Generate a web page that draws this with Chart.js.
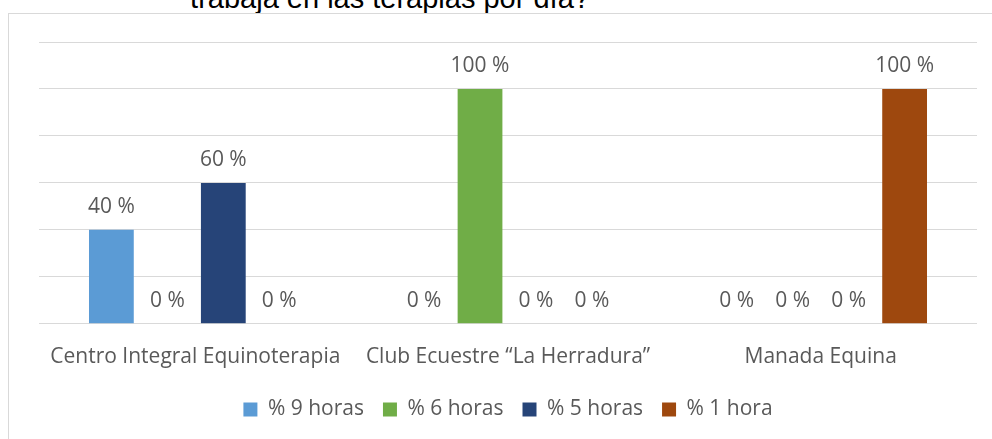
<!DOCTYPE html>
<html>
<head>
<meta charset="utf-8">
<script src="https://cdn.jsdelivr.net/npm/chart.js@4"></script>
<style>
  html, body { margin: 0; padding: 0; background: #fff; overflow: hidden; width: 992px; height: 439px; }
  #title { position: absolute; left: 0; width: 780px; top: -16px; text-align: center;
           font-family: "Liberation Sans", Arial, sans-serif; font-size: 29px; line-height: 29px; color: #000; }
  #frame { position: absolute; left: 8px; top: 13px; width: 1000px; height: 440px;
           border-left: 1px solid #d9d9d9; border-top: 1px solid #d9d9d9; }
  #wrap { position: absolute; left: 1px; top: 1px; width: 998px; height: 415px; }
</style>
</head>
<body>
<div id="title">trabaja en las terapias por día?</div>
<div id="frame"><div id="wrap"><canvas id="chart"></canvas></div></div>
<script>
const categories = ["Centro Integral Equinoterapia", "Club Ecuestre \u201cLa Herradura\u201d", "Manada Equina"];
const seriesNames = ["% 9 horas", "% 6 horas", "% 5 horas", "% 1 hora"];
const horas9 = [40, 0, 0];
const horas6 = [0, 100, 0];
const horas5 = [60, 0, 0];
const hora1 = [0, 0, 100];
const colors = ["#5B9BD5", "#70AD47", "#264478", "#9E480E"];

const textColor = "#595959";
const fontFamily = "'Open Sans', 'Noto Sans', sans-serif";

// value labels above every bar, zeros included
const valueLabels = {
  id: "valueLabels",
  afterDatasetsDraw(chart) {
    const ctx = chart.ctx;
    ctx.save();
    ctx.fillStyle = textColor;
    ctx.font = "21px " + fontFamily;
    ctx.textAlign = "center";
    ctx.textBaseline = "alphabetic";
    chart.data.datasets.forEach((ds, i) => {
      chart.getDatasetMeta(i).data.forEach((bar, j) => {
        ctx.fillText(ds.data[j] + " %", bar.x, bar.y - 17);
      });
    });
    ctx.restore();
  }
};

new Chart(document.getElementById("chart"), {
  type: "bar",
  data: {
    labels: categories,
    datasets: [horas9, horas6, horas5, hora1].map((d, i) => ({
      label: seriesNames[i],
      data: d,
      backgroundColor: colors[i],
      categoryPercentage: 0.716,
      barPercentage: 0.80
    }))
  },
  options: {
    responsive: true,
    maintainAspectRatio: false,
    animation: false,
    layout: { padding: { left: 29, right: 31, top: 27, bottom: 0 } },
    scales: {
      x: {
        grid: { display: false },
        border: { display: false },
        ticks: { color: textColor, font: { family: fontFamily, size: 21 }, padding: 13, maxRotation: 0 },
        afterFit(scale) { scale.height -= 3; }
      },
      y: {
        min: 0, max: 120,
        ticks: { display: false, stepSize: 20 },
        grid: { color: "#d9d9d9", lineWidth: 1, drawTicks: false },
        border: { display: false }
      }
    },
    plugins: {
      legend: {
        position: "bottom",
        labels: { color: textColor, font: { family: fontFamily, size: 21 }, boxWidth: 14, boxHeight: 14, padding: 19 }
      },
      tooltip: { enabled: false }
    }
  },
  plugins: [valueLabels]
});
</script>
</body>
</html>
